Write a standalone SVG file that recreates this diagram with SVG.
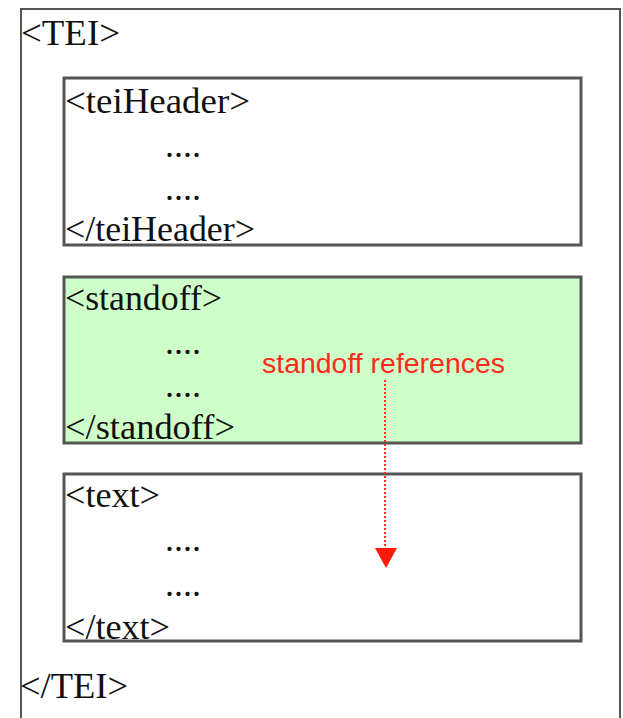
<svg xmlns="http://www.w3.org/2000/svg" width="623" height="718" viewBox="0 0 623 718">
<style>
.box{fill:#fff;stroke:#555;stroke-width:3}
.t{font-family:"Liberation Serif","Times New Roman",serif;font-size:36px;fill:#111}
.red{font-family:"Liberation Sans",Arial,sans-serif;font-size:27px;fill:#ff2a1a}
</style>
<rect width="623" height="718" fill="#fff"/>
<g id="tei">
<rect x="21" y="9" width="599" height="712" fill="#fff" stroke="#555" stroke-width="2"/>
<text class="t" x="21" y="45" textLength="99" lengthAdjust="spacingAndGlyphs">&lt;TEI&gt;</text>
<text class="t" x="20" y="698" textLength="108" lengthAdjust="spacingAndGlyphs">&lt;/TEI&gt;</text>
</g>
<g id="teiHeader">
<rect class="box" x="64" y="78" width="517" height="167"/>
<text class="t" x="65" y="113" textLength="185" lengthAdjust="spacingAndGlyphs">&lt;teiHeader&gt;</text>
<text class="t" x="165" y="157">....</text>
<text class="t" x="165" y="200">....</text>
<text class="t" x="65" y="241" textLength="190" lengthAdjust="spacingAndGlyphs">&lt;/teiHeader&gt;</text>
</g>
<g id="standoff">
<rect class="box" x="64" y="277" width="517" height="166" style="fill:#ceffc8"/>
<text class="t" x="65" y="310" textLength="157" lengthAdjust="spacingAndGlyphs">&lt;standoff&gt;</text>
<text class="t" x="165" y="354">....</text>
<text class="t" x="165" y="397">....</text>
<text class="t" x="65" y="439" textLength="170" lengthAdjust="spacingAndGlyphs">&lt;/standoff&gt;</text>
<text class="red" x="262" y="373" textLength="243" lengthAdjust="spacingAndGlyphs">standoff references</text>
</g>
<g id="text">
<rect class="box" x="64" y="474" width="517" height="167"/>
<text class="t" x="65" y="507" textLength="95" lengthAdjust="spacingAndGlyphs">&lt;text&gt;</text>
<text class="t" x="165" y="551">....</text>
<text class="t" x="165" y="596">....</text>
<text class="t" x="65" y="639" textLength="105" lengthAdjust="spacingAndGlyphs">&lt;/text&gt;</text>
</g>
<g id="connectors">
<line x1="385" y1="380" x2="385" y2="550" stroke="#ff3322" stroke-width="2" stroke-dasharray="2,2"/>
<polygon points="375,548 397,548 386,568" fill="#ff1a0a"/>
</g>
</svg>
